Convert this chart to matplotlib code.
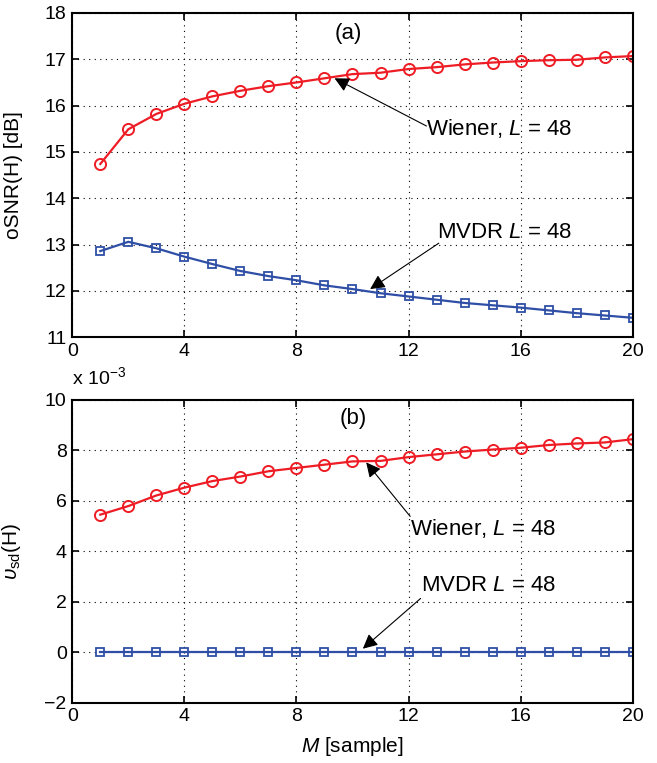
#!/usr/bin/env python3
import matplotlib
matplotlib.use("Agg")
import matplotlib.pyplot as plt

# data
M = list(range(1, 21))
osnr_wiener = [14.74, 15.49, 15.82, 16.04, 16.20, 16.32, 16.42, 16.50, 16.59, 16.68,
               16.71, 16.79, 16.83, 16.89, 16.93, 16.96, 16.98, 16.99, 17.04, 17.07]
osnr_mvdr = [12.86, 13.06, 12.92, 12.74, 12.58, 12.43, 12.32, 12.23, 12.12, 12.04,
             11.95, 11.88, 11.81, 11.74, 11.69, 11.64, 11.58, 11.52, 11.47, 11.42]
# speech distortion index, in units of 1e-3
vsd_wiener = [5.45, 5.79, 6.21, 6.52, 6.78, 6.96, 7.17, 7.30, 7.43, 7.56,
              7.58, 7.73, 7.84, 7.95, 8.03, 8.10, 8.21, 8.27, 8.31, 8.44]
vsd_mvdr = [0.0] * 20

xticks = [0, 4, 8, 12, 16, 20]
yticks_a = [11, 12, 13, 14, 15, 16, 17, 18]
yticks_b = [-2, 0, 2, 4, 6, 8, 10]

RED = "#ee1c24"
BLUE = "#2f4fa6"

plt.rcParams["font.family"] = ["Liberation Sans", "DejaVu Sans"]
plt.rcParams["mathtext.fontset"] = "custom"
plt.rcParams["mathtext.rm"] = "Liberation Sans"
plt.rcParams["mathtext.it"] = "Liberation Sans:italic"
plt.rcParams["font.size"] = 14

fig = plt.figure(figsize=(6.57, 7.63), dpi=100)
ax1 = fig.add_axes([0.110, 0.558, 0.853, 0.425])
ax2 = fig.add_axes([0.110, 0.079, 0.853, 0.397])


def style(ax, yticks):
    ax.set_xlim(0, 20)
    ax.set_ylim(yticks[0], yticks[-1])
    ax.set_xticks(xticks)
    ax.set_yticks(yticks)
    ax.grid(True, linestyle=(0, (1, 4)), color="k", linewidth=0.8)
    ax.tick_params(direction="in", top=True, right=True, length=5, width=1.2,
                   labelsize=14, pad=4)
    for s in ax.spines.values():
        s.set_linewidth(1.5)


arrow = dict(arrowstyle="-|>", color="k", lw=0.8, mutation_scale=22,
             shrinkA=0, shrinkB=0)
ann_size = 16

# (a) output SNR
ax1.plot(M, osnr_wiener, "-o", color=RED, lw=1.6, ms=8, mfc="none", mew=1.4)
ax1.plot(M, osnr_mvdr, "-s", color=BLUE, lw=1.6, ms=6, mfc="none", mew=1.3)
style(ax1, yticks_a)
ax1.set_ylabel("oSNR(H) [dB]", fontsize=15)
ax1.yaxis.set_label_coords(-0.088, 0.5)
ax1.text(9.84, 17.56, "(a)", ha="center", va="center", fontsize=ann_size)
ax1.annotate("", xy=(9.36, 16.59), xytext=(12.64, 15.56), arrowprops=arrow)
ax1.text(12.64, 15.5, "Wiener, $L$ = 48", ha="left", va="center", fontsize=ann_size)
ax1.annotate("", xy=(10.63, 12.04), xytext=(13.08, 13.03), arrowprops=arrow)
ax1.text(13.01, 13.27, "MVDR $L$ = 48", ha="left", va="center", fontsize=ann_size)

# (b) speech distortion index
ax2.plot(M, vsd_wiener, "-o", color=RED, lw=1.6, ms=8, mfc="none", mew=1.4)
ax2.plot(M, vsd_mvdr, "-s", color=BLUE, lw=1.6, ms=6, mfc="none", mew=1.3)
style(ax2, yticks_b)
ax2.set_ylabel(r"$\upsilon_{\rm sd}$(H)", fontsize=15)
ax2.yaxis.set_label_coords(-0.088, 0.5)
ax2.set_xlabel("$M$ [sample]", fontsize=15)
ax2.xaxis.set_label_coords(0.5, -0.105)
ax2.text(0.0, 1.04, r"x 10$^{-3}$", transform=ax2.transAxes, ha="left", va="bottom",
         fontsize=14)
ax2.text(10.04, 9.27, "(b)", ha="center", va="center", fontsize=ann_size)
ax2.annotate("", xy=(10.49, 7.52), xytext=(12.06, 5.38), arrowprops=arrow)
ax2.text(12.06, 4.92, "Wiener, $L$ = 48", ha="left", va="center", fontsize=ann_size)
ax2.annotate("", xy=(10.37, 0.14), xytext=(12.43, 2.13), arrowprops=arrow)
ax2.text(12.43, 2.65, "MVDR $L$ = 48", ha="left", va="center", fontsize=ann_size)

fig.savefig("out.png", dpi=100)
plt.close(fig)
